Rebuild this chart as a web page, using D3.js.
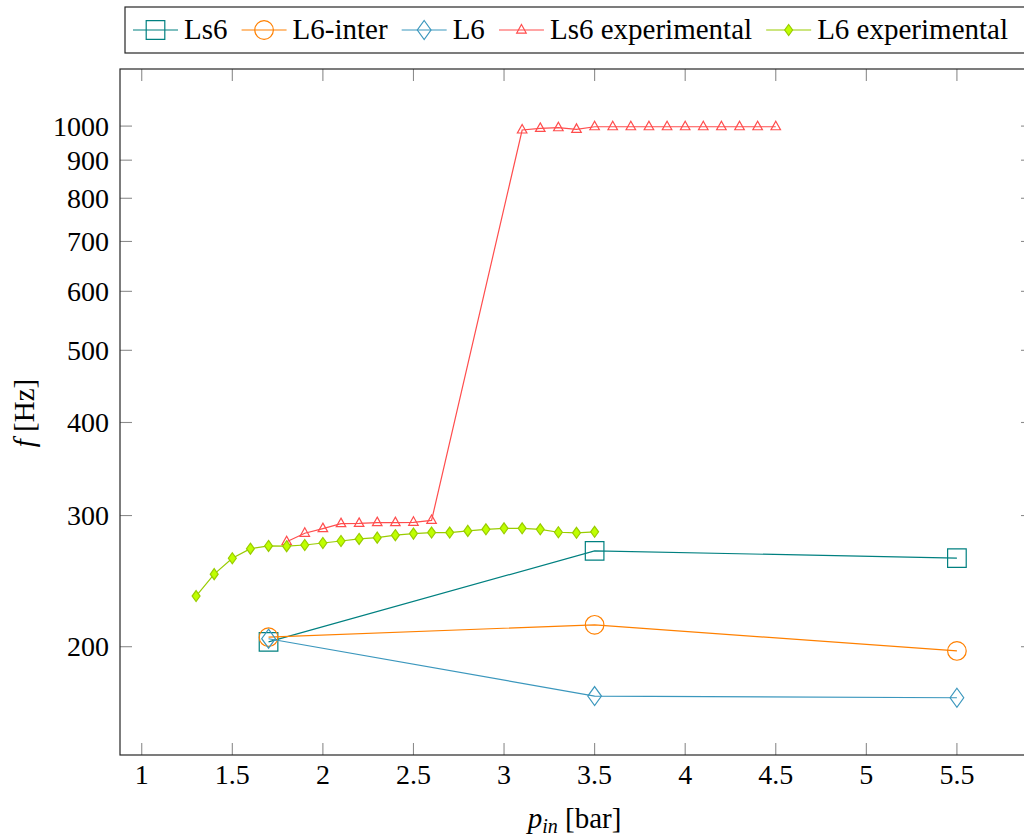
<!DOCTYPE html>
<html><head><meta charset="utf-8">
<script src="https://cdn.jsdelivr.net/npm/d3@7"></script>
<style>
html,body{margin:0;padding:0;background:#fff;}
svg{display:block;}
text{font-family:"Liberation Serif","Times New Roman",serif;fill:#000;}
</style></head>
<body>
<svg id="chart" width="1024" height="838"></svg>
<script>
// ---- data ----
const seriesNames = ["Ls6", "L6-inter", "L6", "Ls6 experimental", "L6 experimental"];
const simX = [1.7, 3.5, 5.5];
const ls6Y = [203, 269, 263];
const l6interY = [206, 214, 197.4];
const l6Y = [205, 171.7, 170.8];
const ls6ExpX = [1.8,1.9,2.0,2.1,2.2,2.3,2.4,2.5,2.6,3.1,3.2,3.3,3.4,3.5,3.6,3.7,3.8,3.9,4.0,4.1,4.2,4.3,4.4,4.5];
const ls6ExpY = [276.7,284.0,288.1,292.6,292.8,293.5,293.5,293.8,295.5,988,993,995,990,998,998,998,998,998,998,998,998,998,998,998];
const l6ExpX = [1.3,1.4,1.5,1.6,1.7,1.8,1.9,2.0,2.1,2.2,2.3,2.4,2.5,2.6,2.7,2.8,2.9,3.0,3.1,3.2,3.3,3.4,3.5];
const l6ExpY = [233.9,250.3,262.9,270.8,273.1,272.9,273.9,275.6,277.3,279.1,280.2,282.3,283.7,284.6,284.6,286.1,287.5,288.4,288.4,287.5,284.9,284.4,285.3];
const xTicks = [1,1.5,2,2.5,3,3.5,4,4.5,5,5.5];
const yTicks = [200,300,400,500,600,700,800,900,1000];

// ---- layout ----
const svg = d3.select("#chart");
const L = 120, R = 1033, T = 69, B = 755;
const x = d3.scaleLinear().domain([0.88, 5.92]).range([L, R]);
const y = d3.scaleLog().domain([143.1, 1193]).range([B, T]);

const styles = [
  {color:"#008080", mark:"square", fill:"none", r:9.3},
  {color:"#ff8000", mark:"circle", fill:"none", r:9.3},
  {color:"#3b97bd", mark:"diamond", fill:"none", r:9.5},
  {color:"#ff4d4d", mark:"triangle", fill:"none", r:5.5},
  {color:"#99cc00", mark:"diamond", fill:"#bfff00", r:5.5}
];
const series = [
  simX.map((v,i)=>[v, ls6Y[i]]),
  simX.map((v,i)=>[v, l6interY[i]]),
  simX.map((v,i)=>[v, l6Y[i]]),
  ls6ExpX.map((v,i)=>[v, ls6ExpY[i]]),
  l6ExpX.map((v,i)=>[v, l6ExpY[i]])
];

function markPath(type, r){
  if(type==="square") return `M${-r},${-r}H${r}V${r}H${-r}Z`;
  if(type==="diamond"){ const w=r*0.72; return `M0,${-r}L${w},0L0,${r}L${-w},0Z`; }
  if(type==="triangle"){ return `M0,${-r}L${0.866*r*1.0},${0.55*r}L${-0.866*r},${0.55*r}Z`; }
  return null;
}
function drawMark(g, st, cx, cy){
  if(st.mark==="circle"){
    g.append("circle").attr("cx",cx).attr("cy",cy).attr("r",st.r)
      .attr("fill",st.fill).attr("stroke",st.color).attr("stroke-width",1.2);
  } else {
    g.append("path").attr("d",markPath(st.mark,st.r)).attr("transform",`translate(${cx},${cy})`)
      .attr("fill",st.fill).attr("stroke",st.color).attr("stroke-width",1.2);
  }
}

// ticks (inward, gray)
const tickG = svg.append("g").attr("stroke","#8c8c8c").attr("stroke-width",1.1);
xTicks.forEach(t=>{
  tickG.append("line").attr("x1",x(t)).attr("x2",x(t)).attr("y1",B).attr("y2",B-12);
  tickG.append("line").attr("x1",x(t)).attr("x2",x(t)).attr("y1",T).attr("y2",T+12);
});
yTicks.forEach(t=>{
  tickG.append("line").attr("x1",L).attr("x2",L+12).attr("y1",y(t)).attr("y2",y(t));
  tickG.append("line").attr("x1",R).attr("x2",R-12).attr("y1",y(t)).attr("y2",y(t));
});

// data
const line = d3.line().x(d=>x(d[0])).y(d=>y(d[1]));
series.forEach((data,i)=>{
  const st = styles[i];
  const g = svg.append("g");
  g.append("path").datum(data).attr("d",line).attr("fill","none")
    .attr("stroke",st.color).attr("stroke-width",1.2);
  data.forEach(d=>drawMark(g, st, x(d[0]), y(d[1])));
});

// frame
svg.append("rect").attr("x",L).attr("y",T).attr("width",R-L).attr("height",B-T)
  .attr("fill","none").attr("stroke","#262626").attr("stroke-width",1.2);

// tick labels
xTicks.forEach(t=>{
  svg.append("text").attr("x",x(t)).attr("y",B+29).attr("text-anchor","middle")
    .attr("font-size",28).text(d3.format("")(t));
});
yTicks.forEach(t=>{
  svg.append("text").attr("x",L-11).attr("y",y(t)+9.5).attr("text-anchor","end")
    .attr("font-size",28).text(t);
});

// axis labels
const xl = svg.append("text").attr("x",(L+R)/2 - 2).attr("y",828).attr("text-anchor","middle").attr("font-size",29);
xl.append("tspan").attr("font-style","italic").text("p");
xl.append("tspan").attr("font-style","italic").attr("font-size",20).attr("dy",5).text("in");
xl.append("tspan").attr("dy",-5).text(" [bar]");

const yl = svg.append("text").attr("transform",`translate(34,413) rotate(-90)`).attr("text-anchor","middle").attr("font-size",29);
yl.append("tspan").attr("font-style","italic").text("f");
yl.append("tspan").text(" [Hz]");

// legend
const lg = svg.append("g");
const legBox = lg.append("rect").attr("x",125).attr("y",7).attr("height",46)
  .attr("fill","#fff").attr("stroke","#262626").attr("stroke-width",1.2);
const sampleW = 45, gapText = 6;
// measure natural widths
const texts = seriesNames.map(n=>{
  const t = lg.append("text").attr("font-size",29).attr("y",38.5).text(n);
  return t;
});
const widths = texts.map(t=>t.node().getComputedTextLength());
const natural = widths.reduce((a,b)=>a+b,0) + seriesNames.length*(sampleW+gapText);
const startX = 133, targetEnd = 1008;
const gapEntry = Math.max(6, (targetEnd - startX - natural)/(seriesNames.length-1));
let cx = startX;
seriesNames.forEach((n,i)=>{
  const st = styles[i];
  lg.append("line").attr("x1",cx).attr("x2",cx+sampleW).attr("y1",30).attr("y2",30)
    .attr("stroke",st.color).attr("stroke-width",1.2);
  drawMark(lg, st, cx+sampleW/2, 30);
  texts[i].attr("x",cx+sampleW+gapText);
  cx += sampleW + gapText + widths[i] + gapEntry;
});
legBox.attr("width", Math.max(cx - 125, 1040 - 125));
</script>
</body></html>
